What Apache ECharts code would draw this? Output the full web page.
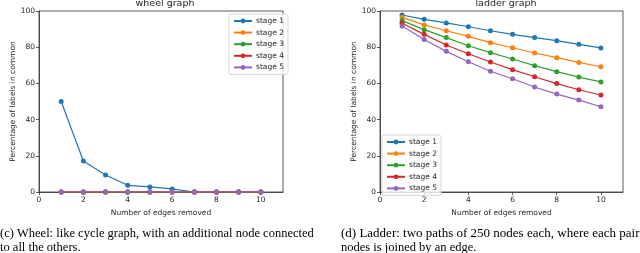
<!DOCTYPE html>
<html><head><meta charset="utf-8">
<script src="https://cdn.jsdelivr.net/npm/echarts@6/dist/echarts.min.js"></script>
<style>html,body{margin:0;padding:0;background:#fff}#c{width:640px;height:253px}</style>
</head><body><div id="c"></div>
<script>
var xs = [1,2,3,4,5,6,7,8,9,10];
var stageNames = ['stage 1','stage 2','stage 3','stage 4','stage 5'];
var colors = ['#1f77b4','#ff7f0e','#2ca02c','#d62728','#9467bd'];
var wheel1 = [50.0,17.1,9.4,3.7,2.8,1.7,0,0,0,0];
var wheel2 = [0,0,0,0,0,0,0,0,0,0];
var wheel3 = [0,0,0,0,0,0,0,0,0,0];
var wheel4 = [0,0,0,0,0,0,0,0,0,0];
var wheel5 = [0,0,0,0,0,0,0,0,0,0];
var ladder1 = [97.8,95.4,93.4,91.3,89.1,87.1,85.3,83.6,81.6,79.6];
var ladder2 = [96.5,92.3,89.1,86.0,82.5,79.7,76.8,74.2,71.6,69.2];
var ladder3 = [94.7,89.7,85.3,80.8,77.0,73.5,69.8,66.5,63.5,60.8];
var ladder4 = [93.2,87.1,81.2,76.4,71.8,67.6,63.7,59.9,56.5,53.6];
var ladder5 = [91.7,84.3,77.7,72.0,66.7,62.6,58.0,54.1,50.8,47.1];
var titles = ['wheel graph','ladder graph'];
var yName = 'Percentage of labels in common';
var xName = 'Number of edges removed';
var captionC = ['(c) Wheel: like cycle graph, with an additional node connected','to all the others.'];
var captionD = ['(d) Ladder: two paths of 250 nodes each, where each pair of','nodes is joined by an edge.'];

var wheel = [wheel1,wheel2,wheel3,wheel4,wheel5];
var ladder = [ladder1,ladder2,ladder3,ladder4,ladder5];
var FONT = 'DejaVu Sans';
var tickFont = {fontFamily:FONT,fontSize:7.5,color:'#262626'};

function xAxis(i){return {type:'value',gridIndex:i,min:0,max:11,interval:2,
  name:xName,nameLocation:'middle',nameGap:17,nameTextStyle:{fontFamily:FONT,fontSize:7.5,color:'#262626'},
  axisLine:{show:true,onZero:false,lineStyle:{color:'#333',width:0.8}},
  axisTick:{show:true,length:3,lineStyle:{color:'#333',width:0.8}},
  axisLabel:Object.assign({margin:4,showMaxLabel:false},tickFont),splitLine:{show:false}};}
function yAxis(i){return {type:'value',gridIndex:i,min:0,max:100,interval:20,
  name:yName,nameLocation:'middle',nameGap:21,nameTextStyle:{fontFamily:FONT,fontSize:7.5,color:'#262626'},
  axisLine:{show:true,lineStyle:{color:'#333',width:0.8}},
  axisTick:{show:true,length:3,lineStyle:{color:'#333',width:0.8}},
  axisLabel:Object.assign({margin:4},tickFont),splitLine:{show:false}};}

var series = [];
function addSeries(data,gi){
  data.forEach(function(arr,k){
    series.push({type:'line',name:stageNames[k],xAxisIndex:gi,yAxisIndex:gi,
      data:xs.map(function(x,j){return [x,arr[j]];}),
      symbol:'circle',symbolSize:5,color:colors[k],
      lineStyle:{width:1.2,color:colors[k]},itemStyle:{color:colors[k]},
      emphasis:{disabled:true},animation:false,z:2+k});
  });
}
addSeries(wheel,0);
addSeries(ladder,1);

function legend(l,t){return {left:l,top:t,orient:'vertical',data:stageNames,
  itemWidth:18,itemHeight:6,itemGap:3.6,padding:[3,4,3,4],
  backgroundColor:'rgba(255,255,255,0.8)',borderColor:'#ccc',borderWidth:0.8,borderRadius:2,
  textStyle:{fontFamily:FONT,fontSize:7.5,color:'#262626',padding:[0,0,0,-1]},selectedMode:false};}

function capText(lines,x,sx){
  return lines.map(function(s,i){return {type:'text',x:x,y:227+i*14,scaleX:(i===0?sx:1),
    style:{text:s,font:'12.5px "Liberation Serif"',fill:'#000'}};});
}

var chart = echarts.init(document.getElementById('c'),null,{renderer:'canvas'});
chart.setOption({
  animation:false,
  title:[
    {text:titles[0],left:160,textAlign:'center',top:-6,textStyle:{fontFamily:FONT,fontSize:9.5,fontWeight:'normal',color:'#262626'}},
    {text:titles[1],left:501,textAlign:'center',top:-6,textStyle:{fontFamily:FONT,fontSize:9.5,fontWeight:'normal',color:'#262626'}}
  ],
  grid:[
    {left:39,top:11,width:244,height:181,show:true,borderColor:'#333',borderWidth:0.8,backgroundColor:'transparent'},
    {left:380,top:11,width:243,height:181,show:true,borderColor:'#333',borderWidth:0.8,backgroundColor:'transparent'}
  ],
  xAxis:[xAxis(0),xAxis(1)],
  yAxis:[yAxis(0),yAxis(1)],
  legend:[legend(229,14),legend(382,135)],
  series:series,
  graphic:capText(captionC,0,1).concat(capText(captionD,341,1.04))
});
</script></body></html>
